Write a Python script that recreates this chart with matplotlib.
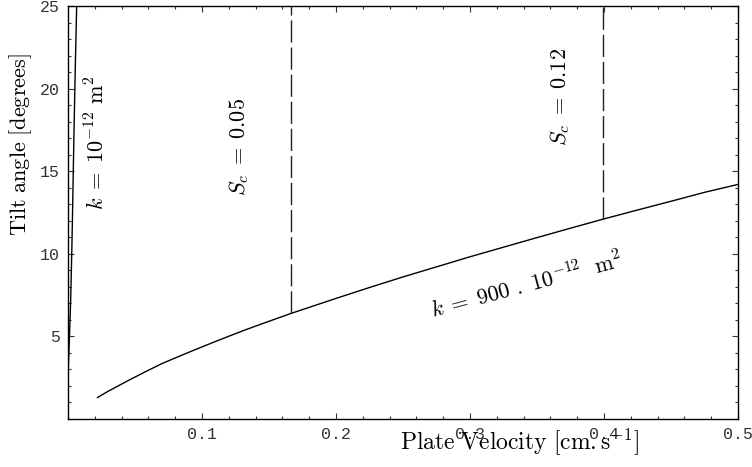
import numpy as np
import matplotlib
matplotlib.use("Agg")
import matplotlib.pyplot as plt
from matplotlib.ticker import MultipleLocator

plt.rcParams['mathtext.fontset'] = 'cm'

# curve k = 10^-12 m^2 (steep one near the y axis)
v_k1 = [0.0002, 0.001, 0.002, 0.003, 0.0035, 0.0045, 0.0055, 0.0066]
tilt_k1 = [3.0, 4.8, 7.2, 10.8, 13.0, 17.5, 21.5, 25.5]

# curve k = 900 . 10^-12 m^2
v_k900 = [0.022, 0.03, 0.045, 0.0575, 0.07, 0.0825, 0.095, 0.1075, 0.12,
          0.1325, 0.145, 0.1664, 0.2, 0.225, 0.25, 0.275, 0.3, 0.325,
          0.35, 0.375, 0.399, 0.425, 0.45, 0.475, 0.5]
tilt_k900 = [1.3, 1.68, 2.33, 2.85, 3.35, 3.78, 4.2, 4.61, 5.01,
             5.4, 5.77, 6.39, 7.3, 7.96, 8.6, 9.21, 9.82, 10.4,
             10.98, 11.55, 12.09, 12.65, 13.18, 13.72, 14.2]

# critical Sc lines
sc_vals = ['0.05', '0.12']
sc_v = [0.1664, 0.399]
sc_tilt = [6.39, 12.09]

xticks = [0.1, 0.2, 0.3, 0.4, 0.5]
yticks = [5, 10, 15, 20, 25]

fig = plt.figure(figsize=(7.52, 4.67), dpi=100)
ax = fig.add_axes([68/752, 48/467, (738-68)/752, (419-6)/467])

ax.plot(v_k1, tilt_k1, color='black', lw=1.0)
ax.plot(v_k900, tilt_k900, color='black', lw=1.0)
for v, t in zip(sc_v, sc_tilt):
    ax.plot([v, v], [t, 25], color='#222222', lw=1.0, dashes=(16, 3.5))

ax.set_xlim(0, 0.5)
ax.set_ylim(0, 25)
ax.set_xticks(xticks)
ax.set_yticks(yticks)
ax.set_xticklabels(['%.1f' % x for x in xticks])
ax.set_yticklabels(['%d' % y for y in yticks])
ax.xaxis.set_minor_locator(MultipleLocator(0.02))
ax.yaxis.set_minor_locator(MultipleLocator(1))
ax.tick_params(which='both', direction='in', top=True, right=True,
               color='#333333', width=0.8)
ax.tick_params(which='major', length=4.5)
ax.tick_params(which='minor', length=2.5)
ax.tick_params(axis='both', labelsize=12, labelcolor='#333333', pad=6)
for lab in ax.get_xticklabels() + ax.get_yticklabels():
    lab.set_family('Liberation Mono')
for s in ax.spines.values():
    s.set_linewidth(1.0)

ax.set_ylabel(r'$\mathrm{Tilt\ angle\ [degrees]}$', fontsize=16)
ax.yaxis.set_label_coords(-0.051, 0.665)
fig.text(0.6915, 18/467, r'$\mathrm{Plate\ Velocity\ [cm.s}^{-1}\mathrm{]}$',
         fontsize=17, ha='center', va='baseline')

ax.text(0.0216, 16.7, r'$k\;=\;10^{-12}\ \mathrm{m}^2$', fontsize=16,
        rotation=90, ha='center', va='center')
ax.text(0.1276, 16.46, r'$S_c\;=\;%s$' % sc_vals[0], fontsize=16,
        rotation=90, ha='center', va='center')
ax.text(0.367, 19.5, r'$S_c\;=\;%s$' % sc_vals[1], fontsize=16,
        rotation=90, ha='center', va='center')
ax.text(0.3423, 8.11, r'$k\;=\;900\ .\ 10^{-12}\ \ \mathrm{m}^2$', fontsize=16,
        rotation=15, ha='center', va='center', rotation_mode='anchor')

fig.savefig('out.png', dpi=100)
